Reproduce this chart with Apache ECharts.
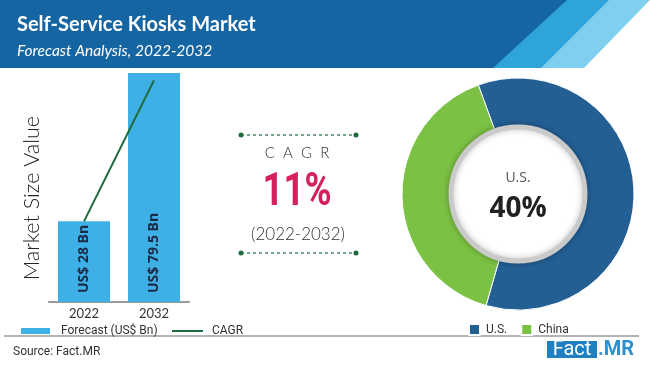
<!DOCTYPE html>
<html>
<head>
<meta charset="utf-8">
<script src="https://cdn.jsdelivr.net/npm/echarts@6/dist/echarts.min.js"></script>
<style>
html,body{margin:0;padding:0;background:#fff;}
#chart{width:650px;height:368px;}
</style>
</head>
<body>
<div id="chart"></div>
<script>
// ---- data ----
var titleText = 'Self-Service Kiosks Market';
var subtitleText = 'Forecast Analysis, 2022-2032';
var years = ['2022', '2032'];
var forecastValues = [28, 79.5];
var forecastLabels = ['US$ 28 Bn', 'US$ 79.5 Bn'];
var cagrLineValues = [28, 77];
var cagrText = '11%';
var cagrPeriod = '(2022-2032)';
var regions = ['U.S.', 'China'];
var regionShares = [60, 40];
var centerLabel = 'U.S.';
var centerValue = '40%';
var sourceText = 'Source: Fact.MR';

var chart = echarts.init(document.getElementById('chart'));
var sans = 'Lato, "Open Sans", sans-serif';
var ui = 'Roboto, "Open Sans", sans-serif';

chart.setOption({
  animation: false,
  backgroundColor: '#ffffff',
  title: [
    {text: titleText, left: 12, top: 10, textStyle: {color: '#fff', fontSize: 20, fontWeight: 'bold', fontFamily: sans}},
    {text: subtitleText, left: 12, top: 38, textStyle: {color: '#fff', fontSize: 15.5, fontWeight: 'normal', fontStyle: 'italic', fontFamily: sans}}
  ],
  legend: [
    {data: ['Forecast (US$ Bn)'], left: 16, top: 320, itemWidth: 29, itemHeight: 6, icon: 'rect',
     textStyle: {fontSize: 12, color: '#333', fontFamily: ui, padding: [0,0,0,6]}},
    {data: ['CAGR'], left: 167, top: 320, itemWidth: 31, itemHeight: 2, icon: 'rect',
     textStyle: {fontSize: 12, color: '#333', fontFamily: ui, padding: [0,0,0,4]}},
    {data: regions, left: 463, top: 318, itemWidth: 11, itemHeight: 11, icon: 'rect', itemGap: 13,
     textStyle: {fontSize: 12, color: '#333', fontFamily: ui, padding: [0,0,0,1]}}
  ],
  grid: {left: 49, width: 140, top: 73, bottom: 66},
  xAxis: {
    type: 'category', data: years,
    axisLine: {lineStyle: {color: '#9a9a9a', width: 2}},
    axisTick: {show: false},
    axisLabel: {color: '#333', fontSize: 13, margin: 5, fontFamily: sans}
  },
  yAxis: {type: 'value', min: 0, max: 79.5, show: false},
  graphic: [
    {type: 'polygon', z: 0, shape: {points: [[0,0],[650,0],[584,68],[0,68]]}, style: {fill: '#7fd0ef'}},
    {type: 'polygon', z: 1, shape: {points: [[0,0],[609,0],[541,68],[0,68]]}, style: {fill: '#2fa4d9'}},
    {type: 'polygon', z: 2, shape: {points: [[0,0],[567,0],[493,68],[0,68]]}, style: {fill: '#1565a2'}},
    {type: 'text', left: 21, top: 116, rotation: Math.PI / 2, style: {text: 'Market Size Value', fill: '#222', font: '300 21.5px Lato, sans-serif'}},
    // CAGR block
    {type: 'line', shape: {x1: 241, y1: 135, x2: 356, y2: 135}, style: {stroke: '#1f6b3e', lineWidth: 1.2, lineDash: [3, 3]}},
    {type: 'circle', shape: {cx: 241, cy: 135, r: 2.5}, style: {fill: '#1f6b3e'}},
    {type: 'circle', shape: {cx: 356, cy: 135, r: 2.5}, style: {fill: '#1f6b3e'}},
    {type: 'line', shape: {x1: 241, y1: 253, x2: 356, y2: 253}, style: {stroke: '#1f6b3e', lineWidth: 1.2, lineDash: [3, 3]}},
    {type: 'circle', shape: {cx: 241, cy: 253, r: 2.5}, style: {fill: '#1f6b3e'}},
    {type: 'circle', shape: {cx: 356, cy: 253, r: 2.5}, style: {fill: '#1f6b3e'}},
    {type: 'text', x: 297, y: 153, style: {text: 'C  A  G  R', fill: '#333', font: '300 15px Lato, sans-serif', align: 'center', verticalAlign: 'middle'}},
    {type: 'text', x: 297, y: 193, scaleX: 0.78, style: {text: cagrText, fill: '#d4205f', font: 'bold 47px Roboto, sans-serif', align: 'center', verticalAlign: 'middle'}},
    {type: 'text', x: 298, y: 235, style: {text: cagrPeriod, fill: '#333', font: '300 17px Lato, sans-serif', align: 'center', verticalAlign: 'middle'}},
    // donut center text
    {type: 'text', x: 518, y: 178, z: 20, style: {text: centerLabel, fill: '#555', font: '14px "Open Sans", sans-serif', align: 'center', verticalAlign: 'middle'}},
    {type: 'text', x: 518, y: 209, z: 20, style: {text: centerValue, fill: '#222', font: 'bold 28px "Open Sans", sans-serif', align: 'center', verticalAlign: 'middle'}},
    // footer
    {type: 'line', shape: {x1: 4, y1: 336, x2: 639, y2: 336}, style: {stroke: '#b3b3b3', lineWidth: 2}},
    {type: 'text', x: 13, y: 352, style: {text: sourceText, fill: '#333', font: '12px Roboto, sans-serif', verticalAlign: 'middle'}},
    {type: 'rect', shape: {x: 547, y: 341, width: 50, height: 17}, style: {fill: '#1f7fc0'}},
    {type: 'text', x: 572, y: 350, style: {text: 'Fact', fill: '#fff', font: '20px Roboto, sans-serif', align: 'center', verticalAlign: 'middle'}},
    {type: 'text', x: 598, y: 350, style: {text: '.MR', fill: '#2a8fd0', font: 'bold 20px Roboto, sans-serif', verticalAlign: 'middle'}}
  ],
  series: [
    {
      name: 'Forecast (US$ Bn)', type: 'bar', data: forecastValues, barWidth: 52,
      itemStyle: {color: '#3fb0e6'},
      label: {
        show: true, position: 'insideBottom', rotate: 90, align: 'left', verticalAlign: 'middle', distance: 9,
        formatter: function (p) { return forecastLabels[p.dataIndex]; },
        color: '#1b2a47', fontSize: 14, fontWeight: 'bold', fontFamily: '"Open Sans", sans-serif'
      }
    },
    {
      name: 'CAGR', type: 'line', data: cagrLineValues, symbol: 'none',
      lineStyle: {color: '#1f6b3e', width: 2}, itemStyle: {color: '#1f6b3e'}, z: 5
    },
    {
      name: 'Share', type: 'pie', center: [518, 194], radius: [64, 116], startAngle: 110, clockwise: true,
      label: {show: false}, labelLine: {show: false}, silent: true,
      itemStyle: {borderColor: '#fff', borderWidth: 1},
      data: regions.map(function (r, i) {
        return {name: r, value: regionShares[i], itemStyle: {color: i === 0 ? '#245f94' : '#7bc143'}};
      })
    },
    {
      name: 'ring', type: 'pie', center: [518, 194], radius: [0, 67], silent: true, z: 10,
      label: {show: false}, labelLine: {show: false},
      itemStyle: {color: '#fff', borderColor: '#cacaca', borderWidth: 5, shadowColor: 'rgba(0,0,0,0.25)', shadowBlur: 6},
      data: [{name: 'ring', value: 1}]
    }
  ]
});
</script>
</body>
</html>
